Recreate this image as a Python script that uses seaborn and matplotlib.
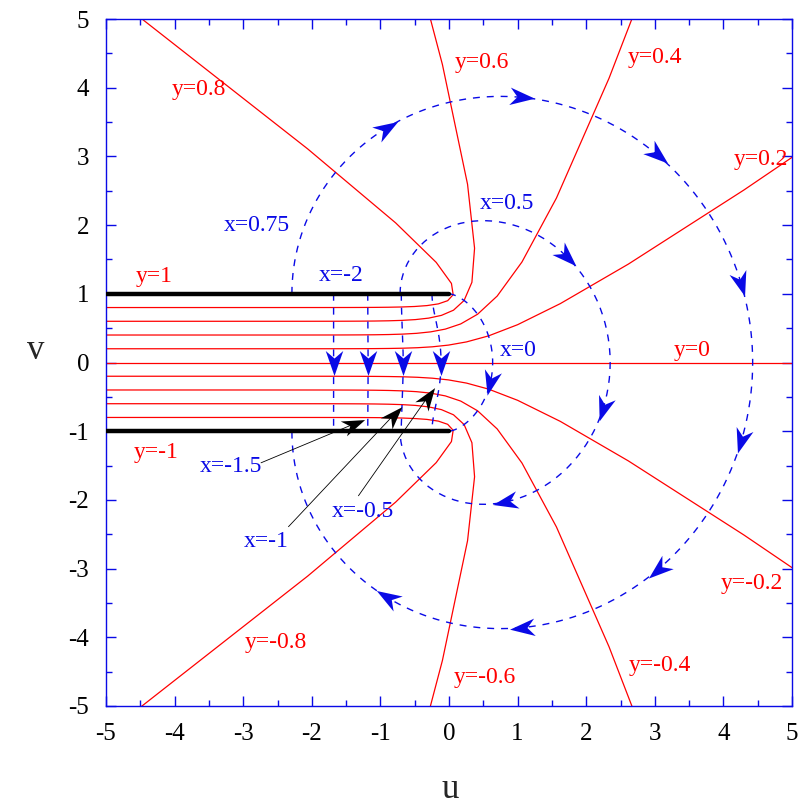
import numpy as np
import pandas as pd
import matplotlib
matplotlib.use("Agg")
import matplotlib.pyplot as plt
from matplotlib.path import Path
from matplotlib.markers import MarkerStyle
from matplotlib.transforms import Affine2D
import seaborn as sns

# levels of the map  w = (1 + z + exp(z)) / pi ,  z = pi*(x + i*y)
y_levels = [0.8, 0.6, 0.4, 0.2, 0.0, -0.2, -0.4, -0.6, -0.8]
plate_levels = [1.0, -1.0]
x_levels = [0.75, 0.5, 0.0, -0.5, -1.0, -1.5, -2.0]

# where the direction arrows sit on each x-curve (value of y)
x_arrow_at = {
    0.75: [0.7, 0.5, 0.3, 0.1, -0.1, -0.3, -0.5, -0.7],
    0.5: [0.3, -0.12, -0.5],
    0.0: [-0.15],
    -0.5: [0.0],
    -1.0: [0.0],
    -1.5: [0.0],
    -2.0: [0.0],
}

y_label_text = ["y=1", "y=0.8", "y=0.6", "y=0.4", "y=0.2", "y=0",
                "y=-0.2", "y=-0.4", "y=-0.6", "y=-0.8", "y=-1"]
y_label_pos = [(-4.3, 1.25), (-3.65, 3.97), (0.48, 4.37), (3.0, 4.44), (4.55, 2.95),
               (3.55, 0.17), (4.42, -3.21), (3.07, -4.41), (0.52, -4.59),
               (-2.52, -4.08), (-4.27, -1.31)]
x_label_text = ["x=0.75", "x=0.5", "x=-2", "x=0"]
x_label_pos = [(-2.8, 2.0), (0.84, 2.32), (-1.57, 1.27), (1.01, 0.17)]
pointer_text = ["x=-1.5", "x=-1", "x=-0.5"]
pointer_label = [(-3.18, -1.52), (-2.66, -2.61), (-1.25, -2.17)]
pointer_tail = [(-2.74, -1.46), (-2.34, -2.39), (-1.32, -1.94)]
pointer_tip = [(-1.23, -0.83), (-0.69, -0.64), (-0.21, -0.36)]


def w(x, y):
    z = np.pi * (np.asarray(x) + 1j * np.asarray(y))
    return (1 + z + np.exp(z)) / np.pi


x_samp = np.round(np.arange(-60, 15, 2) / 10, 1)
rows = []
for yl in y_levels:
    ww = w(x_samp, yl)
    for i, p in enumerate(ww):
        rows.append({"y": yl, "i": i, "u": p.real, "v": p.imag})
df_y = pd.DataFrame(rows)

x_plate = np.round(np.arange(-60, 1, 2) / 10, 1)
rows = []
for yl in plate_levels:
    ww = w(x_plate, yl)
    for i, p in enumerate(ww):
        rows.append({"y": yl, "i": i, "u": p.real, "v": p.imag})
df_plate = pd.DataFrame(rows)

y_samp = np.linspace(1, -1, 201)
rows = []
for xl in x_levels:
    ww = w(xl, y_samp)
    for i, p in enumerate(ww):
        rows.append({"x": xl, "i": i, "u": p.real, "v": p.imag})
df_x = pd.DataFrame(rows)

sns.set_theme(style="white")
plt.rcParams["font.family"] = ["Liberation Serif", "DejaVu Serif"]
plt.rcParams["axes.unicode_minus"] = False

fig = plt.figure(figsize=(8.09, 8.07), dpi=100)
ax = fig.add_axes([106 / 809, 1 - 706 / 807, 686 / 809, 687 / 807])

red = "#ff0000"
blue = "#0a0ae6"

sns.lineplot(data=df_y, x="u", y="v", units="y", estimator=None, sort=False,
             color=red, lw=0.9, ax=ax)
sns.lineplot(data=df_x, x="u", y="v", units="x", estimator=None, sort=False,
             color=blue, lw=1.0, linestyle=(0, (5, 5)), ax=ax)
sns.lineplot(data=df_plate, x="u", y="v", units="y", estimator=None, sort=False,
             color="black", lw=3.2, ax=ax, zorder=4)

# notched arrow head
stealth = Path([(10, 0), (-10, 7), (-4, 0), (-10, -7), (10, 0)],
               [Path.MOVETO, Path.LINETO, Path.LINETO, Path.LINETO, Path.CLOSEPOLY])
px_per_unit = 68.6


def head(u, v, ang, color, size_px):
    m = MarkerStyle(stealth, transform=Affine2D().rotate_deg(ang))
    ax.plot([u], [v], marker=m, ms=size_px * 0.72, color=color, mec=color,
            mew=0, ls="none", zorder=6)


for xl, ys in x_arrow_at.items():
    for y0 in ys:
        p = w(xl, y0)
        d = w(xl, y0 - 0.005) - w(xl, y0 + 0.005)
        head(p.real, p.imag, np.degrees(np.angle(d)), blue, 25)

for t, (px, py) in zip(y_label_text, y_label_pos):
    ax.text(px, py, t, color=red, fontsize=17, ha="center", va="center")
for t, (px, py) in zip(x_label_text, x_label_pos):
    ax.text(px, py, t, color=blue, fontsize=17, ha="center", va="center")
for t, lab, tail, tip in zip(pointer_text, pointer_label, pointer_tail, pointer_tip):
    ax.text(lab[0], lab[1], t, color=blue, fontsize=17, ha="center", va="center")
    du, dv = tip[0] - tail[0], tip[1] - tail[1]
    ln = np.hypot(du, dv)
    L = 23 / px_per_unit
    cu, cv = tip[0] - du / ln * L / 2, tip[1] - dv / ln * L / 2
    ax.plot([tail[0], cu], [tail[1], cv], color="black", lw=0.6, zorder=6)
    head(cu, cv, np.degrees(np.arctan2(dv, du)), "black", 23)

ax.set_xlim(-5, 5)
ax.set_ylim(-5, 5)
ax.set_xticks(range(-5, 6))
ax.set_yticks(range(-5, 6))
ax.set_xticks(np.arange(-4.5, 5, 1), minor=True)
ax.set_yticks(np.arange(-4.5, 5, 1), minor=True)
ax.tick_params(which="both", direction="in", top=True, right=True,
               bottom=True, left=True, color=blue, width=1.0, labelsize=18,
               labelcolor="black")
ax.tick_params(which="major", length=7.5)
ax.tick_params(which="minor", length=4.5)
ax.tick_params(axis="x", pad=12)
ax.tick_params(axis="y", pad=12)
for s in ax.spines.values():
    s.set_color(blue)
    s.set_linewidth(1.0)
ax.set_xlabel("")
ax.set_ylabel("")

fig.text(450 / 809, 1 - 790 / 807, "u", fontsize=25, ha="center", va="center")
fig.text(36 / 809, 1 - 351 / 807, "v", fontsize=25, ha="center", va="center")

fig.savefig("out.png", dpi=100)
